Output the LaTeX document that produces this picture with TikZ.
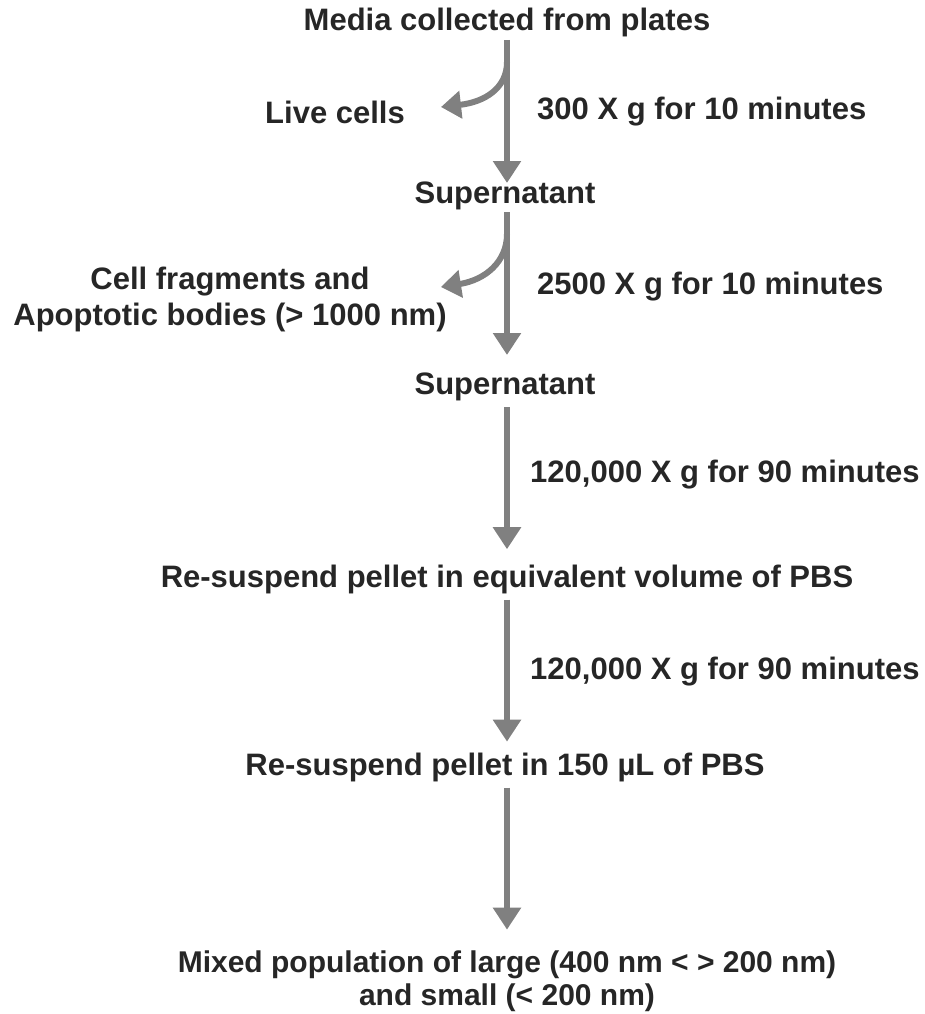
\documentclass[tikz,border=0pt]{standalone}
\usepackage{fontspec}
\setmainfont{Liberation Sans}
\usetikzlibrary{arrows.meta}
\begin{document}
\begin{tikzpicture}[x=1pt,y=-1pt,
  lbl/.style={font=\fontsize{31}{36}\selectfont\bfseries, text=black!85, inner sep=0pt, align=center},
  flow/.style={draw=black!50, line width=6pt, -{Triangle[width=27pt,length=22pt]}},
  side/.style={draw=black!50, line width=6pt, -{Triangle[width=27pt,length=20pt]}}]
\useasboundingbox (0,0) rectangle (925,1014);
\node[lbl] (media) at (507,22) {Media collected from plates};
\node[lbl] (live) at (335,112) {Live cells};
\node[lbl, anchor=west] (c1) at (537,112) {300 X g for 10 minutes};
\node[lbl] (sup1) at (505,196) {Supernatant};
\node[lbl] (frag) at (230,299) {Cell fragments and\\Apoptotic bodies (> 1000 nm)};
\node[lbl, anchor=west] (c2) at (537,287) {2500 X g for 10 minutes};
\node[lbl] (sup2) at (505,387) {Supernatant};
\node[lbl, anchor=west] (c3) at (530,475) {120,000 X g for 90 minutes};
\node[lbl] (res1) at (507,579) {Re-suspend pellet in equivalent volume of PBS};
\node[lbl, anchor=west] (c4) at (530,672) {120,000 X g for 90 minutes};
\node[lbl] (res2) at (505,767) {Re-suspend pellet in 150 µL of PBS};
\node[lbl, font=\fontsize{30}{33}\selectfont\bfseries] (mix) at (507,981) {Mixed population of large (400 nm < > 200 nm)\\and small (< 200 nm)};
\coordinate (s1) at (507,40);
\coordinate (e1) at (507,183);
\coordinate (b1) at (507,62);
\coordinate (t1) at (441,107);
\coordinate (s2) at (507,212);
\coordinate (e2) at (507,355);
\coordinate (b2) at (507,234);
\coordinate (t2) at (441,287);
\draw[flow] (s1) -- (e1);
\draw[side] (b1) .. controls (507,88) and (485,102) .. (t1);
\draw[flow] (s2) -- (e2);
\draw[side] (b2) .. controls (507,262) and (485,280) .. (t2);
\draw[flow] (sup2.south -| s1) ++(0,6) -- ++(0,142);
\draw[flow] (res1.south -| s1) ++(0,6) -- ++(0,142);
\draw[flow] (res2.south -| s1) ++(0,6) -- ++(0,142);
\end{tikzpicture}
\end{document}
